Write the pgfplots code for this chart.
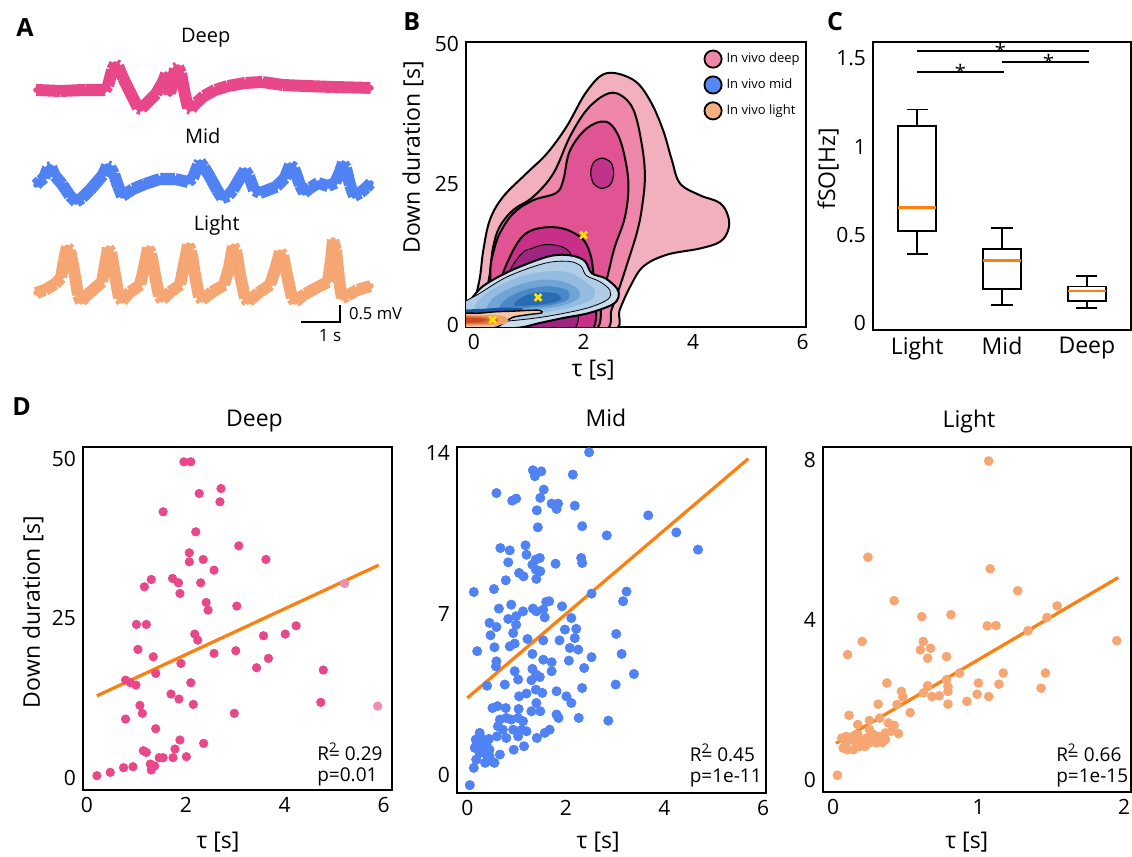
\documentclass[border=0pt]{standalone}
\usepackage{fontspec}
\setmainfont{Open Sans}
\usepackage{pgfplots}
\usepackage{pgfplotstable}
\pgfplotsset{compat=1.18}
\usepgfplotslibrary{statistics}
\usetikzlibrary{decorations.pathmorphing}

\definecolor{deepC}{HTML}{E8488A}
\definecolor{deepL}{HTML}{EE8DB0}
\definecolor{midC}{HTML}{5082F3}
\definecolor{lightC}{HTML}{F5A673}
\definecolor{fitC}{HTML}{FF7F0E}
\definecolor{dA}{HTML}{F2AFBE}
\definecolor{dB}{HTML}{EE87AA}
\definecolor{dC}{HTML}{E05494}
\definecolor{dD}{HTML}{C72F88}
\definecolor{dE}{HTML}{A02580}
\definecolor{dF}{HTML}{C0338D}
\definecolor{bA}{HTML}{C9DDEF}
\definecolor{bB}{HTML}{B0CDE7}
\definecolor{bC}{HTML}{93BCE0}
\definecolor{bD}{HTML}{6FA4D4}
\definecolor{bE}{HTML}{4A89C6}
\definecolor{bF}{HTML}{2A6CB2}
\definecolor{bG}{HTML}{1B56A0}
\definecolor{oA}{HTML}{F8C7A2}
\definecolor{oB}{HTML}{F0A06C}
\definecolor{oC}{HTML}{E2703A}
\definecolor{oD}{HTML}{C64A1F}
\definecolor{yel}{HTML}{FFE400}
\definecolor{legMid}{HTML}{5588F5}
\definecolor{legLight}{HTML}{F5B07E}

\newcommand\txt[4][]{\node[#1] at ({(#2)*0.5pt},{(857-(#3))*0.5pt}) {#4};}

\tikzset{stat/.style={anchor=west, inner sep=0pt, font=\fontsize{9.5}{11}\selectfont}}
\pgfplotsset{
  every axis/.append style={
    scale only axis,
    axis line style={line width=1.1pt},
    major tick length=0pt,
    tick style={draw=none},
    tick label style={font=\fontsize{10.5}{12}\selectfont},
    label style={font=\fontsize{11.5}{13}\selectfont},
    /pgf/number format/assume math mode=true,
  },
  tracebase/.style={line width=2.8pt, line join=round, line cap=round},
  tracenoise/.style={line width=0.35pt, line join=bevel, decorate,
    decoration={zigzag, segment length=0.5pt, amplitude=3.0pt}},
}

\pgfplotstableread{
x y
36 90
60 91
85 90
105 90
108 86
112 70
115 64
118 66
123 78
130 92
138 108
141 109
148 102
156 94
163 82
166 74
168 80
170 94
172 84
175 69
178 67
181 73
184 90
188 108
191 109
196 103
204 96
215 90
228 86
245 83
262 82
283 85
305 86
333 87
371 88
}\deeptrace
\pgfplotstableread{
x y
36 185
40 181
44 178
48 168
51 167
55 176
62 184
70 196
76 202
82 198
90 190
97 182
103 175
107 166
110 167
114 174
118 186
122 196
127 193
133 189
145 184
160 179
175 179
188 182
193 178
198 165
200 162
204 167
210 177
217 190
222 198
228 196
233 190
240 178
245 170
249 176
254 190
260 193
268 190
276 187
285 178
290 165
294 168
300 185
304 193
310 188
318 183
328 186
335 183
340 172
343 163
346 168
350 185
354 196
360 193
366 188
371 183
}\midtrace
\pgfplotstableread{
x y
36 293
45 290
55 284
61 278
64 260
67 247
70 250
74 270
78 295
81 302
86 296
95 288
102 282
105 265
108 248
111 252
115 275
119 298
122 301
130 292
140 285
144 268
148 248
151 253
155 275
159 296
162 300
170 292
180 285
184 265
188 245
191 250
195 275
199 297
202 300
212 292
224 285
229 268
233 246
236 250
240 275
245 298
248 302
258 293
270 285
275 270
280 252
283 255
287 275
292 298
295 302
305 294
318 287
328 282
331 260
333 240
336 250
339 280
342 298
347 296
357 290
371 286
}\lighttrace

\begin{document}
\begin{tikzpicture}
\path[use as bounding box] (0,0) rectangle (566pt,428.5pt);

% ---------------- Panel A ----------------
\begin{axis}[at={(15pt,256pt)}, anchor=south west, width=175pt, height=152.5pt,
  xmin=30, xmax=380, ymin=40, ymax=345, y dir=reverse, hide axis, clip=false]
\addplot[deepC, tracebase] table {\deeptrace};
\addplot[deepC, tracenoise] table {\deeptrace};
\addplot[midC, tracebase] table {\midtrace};
\addplot[midC, tracenoise] table {\midtrace};
\addplot[lightC, tracebase] table {\lighttrace};
\addplot[lightC, tracenoise] table {\lighttrace};
\addplot[black, line width=0.9pt] coordinates {(301,322) (340,322) (340,305)};
\end{axis}
\txt[font=\fontsize{10}{12}\selectfont]{205.7}{37.3}{Deep}
\txt[font=\fontsize{10}{12}\selectfont]{202.7}{136}{Mid}
\txt[font=\fontsize{10}{12}\selectfont]{216.7}{225}{Light}
\txt[font=\fontsize{8.3}{10}\selectfont, anchor=west]{342}{314}{0.5 mV}
\txt[font=\fontsize{8.5}{10}\selectfont]{330}{336}{1 s}

% ---------------- Panel B ----------------
\begin{axis}[at={(233pt,265pt)}, anchor=south west, width=170pt, height=142.5pt,
  xmin=-0.146, xmax=6.06, ymin=-0.36, ymax=50.36,
  xtick={0,2,4,6}, ytick={0,25,50},
  xlabel={τ [s]}, ylabel={Down duration [s]},
  xlabel style={at={(axis description cs:0.374,-0.151)}, anchor=center},
  ylabel style={at={(axis description cs:-0.156,0.595)}, anchor=center},
  legend style={at={(axis description cs:1.0,0.985)}, anchor=north east, draw=none,
    fill=none, font=\fontsize{6.5}{8}\selectfont, row sep=2.5pt, inner sep=1pt},
  legend cell align=left]
\addplot[fill=dA, draw=black, line width=1pt, smooth cycle, tension=0.6, forget plot] coordinates {
(0.0,-1) (0.02,4) (0.11,8.6) (0.17,13.3) (0.29,18.7) (0.53,22.8) (0.96,27.0) (1.33,30.5)
(1.69,35.3) (2.06,41.6) (2.42,44.8) (2.91,43.6) (3.21,40.0) (3.45,34.7) (3.61,29.4)
(3.76,25.2) (4.12,23.1) (4.49,21.7) (4.64,19.3) (4.64,16.9) (4.49,14.8) (4.12,13.6)
(3.52,12.5) (3.09,10.4) (2.85,6.8) (2.66,2.7) (2.53,-1) (1.3,-1.5)};
\addplot[fill=dB, draw=black, line width=1pt, smooth cycle, tension=0.6, forget plot] coordinates {
(0.18,-1) (0.22,5) (0.29,9.2) (0.35,13.9) (0.47,17.5) (0.72,20.5) (1.08,22.8) (1.45,27.0)
(1.75,33.5) (2.06,38.3) (2.40,41.0) (2.66,41.0) (2.91,38.3) (3.06,32.3) (3.12,26.4)
(3.06,20.5) (2.97,16.3) (2.82,11.6) (2.66,6.8) (2.51,2.7) (2.37,-1) (1.3,-1.5)};
\addplot[fill=dC, draw=black, line width=1pt, smooth cycle, tension=0.6, forget plot] coordinates {
(0.28,-1) (0.30,5) (0.30,10) (0.35,12.8) (0.47,16.3) (0.72,19.9) (1.08,22.2) (1.50,23.5)
(1.63,25.8) (1.75,31.0) (2.06,35.0) (2.40,36.2) (2.62,34.0) (2.76,29.5) (2.82,24.5)
(2.75,19.0) (2.57,13.9) (2.45,9.2) (2.33,4.4) (2.20,-1) (1.3,-1.5)};
\addplot[fill=dF, draw=black, line width=0.6pt, smooth cycle, forget plot] coordinates {
(2.34,29.7) (2.50,28.9) (2.55,27.0) (2.49,25.0) (2.33,24.3) (2.18,25.2) (2.13,27.2) (2.19,29.0)};
\addplot[fill=dD, draw=black, line width=1pt, smooth cycle, tension=0.6, forget plot] coordinates {
(0.40,-1) (0.42,4) (0.45,6.8) (0.63,11.6) (0.88,15.7) (1.18,17.2) (1.61,17.2) (1.97,15.4)
(2.12,12.7) (2.18,9.2) (2.21,5.6) (2.14,-1) (1.3,-1.5)};
\addplot[fill=dE, draw=black, line width=0.5pt, smooth cycle, tension=0.6, forget plot] coordinates {
(0.55,-1) (0.6,8) (0.85,12.5) (1.05,13.6) (1.30,14.3) (1.61,13.9) (1.79,12.2) (1.85,8) (1.8,-1)};
% mid (blue)
\addplot[fill=bA, draw=black, line width=1pt, smooth cycle, tension=0.55, forget plot] coordinates {
(-0.3,0.0) (-0.3,3.4) (-0.13,3.8) (0.15,6.8) (0.57,9.2) (1.0,11.0) (1.36,12.2) (1.61,12.5)
(1.85,12.2) (2.03,11.3) (2.15,9.2) (2.40,8.3) (2.61,6.5) (2.64,5.0) (2.52,3.6) (2.09,2.1)
(1.61,1.2) (1.18,0.3) (0.8,-0.5) (0.0,-0.8)};
\addplot[fill=bB, draw=black, line width=0.4pt, smooth cycle, tension=0.55, forget plot] coordinates {
(-0.3,0.5) (-0.3,3.2) (0.1,5.6) (0.55,8.3) (1.0,10.1) (1.4,11.2) (1.75,11.3) (1.95,10.5)
(2.05,8.8) (2.3,7.7) (2.48,6.2) (2.45,4.6) (2.1,3.1) (1.6,2.0) (1.1,1.2) (0.5,0.6) (0.0,0.3)};
\addplot[fill=bC, draw=none, smooth cycle, forget plot] coordinates {
(0.0,1.2) (0.1,4.6) (0.5,7.2) (0.95,8.9) (1.4,9.6) (1.75,9.3) (2.0,7.9) (2.2,6.3) (2.15,4.6)
(1.8,3.2) (1.3,2.3) (0.7,1.5)};
\addplot[fill=bD, draw=none, smooth cycle, forget plot] coordinates {
(0.2,2.0) (0.35,4.8) (0.75,6.9) (1.2,8.0) (1.6,7.8) (1.9,6.4) (1.9,4.6) (1.55,3.3) (1.0,2.6) (0.5,2.1)};
\addplot[fill=bE, draw=none, smooth cycle, forget plot] coordinates {
(0.45,2.6) (0.6,4.7) (0.95,6.3) (1.35,6.9) (1.7,6.2) (1.72,4.6) (1.4,3.5) (0.9,3.0)};
\addplot[fill=bF, draw=none, smooth cycle, forget plot] coordinates {
(0.75,3.4) (0.85,4.8) (1.15,5.8) (1.5,5.6) (1.58,4.5) (1.3,3.7)};
\addplot[fill=bG, draw=none, smooth cycle, forget plot] coordinates {
(-0.3,1.7) (-0.3,2.6) (0.2,2.9) (0.6,3.1) (0.9,2.9) (0.7,2.2) (0.2,1.8)};
% light (orange)
\addplot[fill=oA, draw=black, line width=0.7pt, smooth cycle, tension=0.5, forget plot] coordinates {
(-0.3,-0.5) (-0.3,1.9) (0.1,2.1) (0.4,2.35) (0.7,2.45) (1.0,2.6) (1.2,2.6) (1.24,2.15)
(1.0,1.85) (0.7,1.35) (0.55,0.4) (0.35,-0.5)};
\addplot[fill=oB, draw=none, smooth cycle, forget plot] coordinates {
(-0.3,0.0) (-0.3,1.7) (0.15,1.8) (0.5,1.65) (0.62,0.9) (0.5,0.05)};
\addplot[fill=oC, draw=none, smooth cycle, forget plot] coordinates {
(-0.3,0.2) (-0.3,1.45) (0.15,1.5) (0.42,1.2) (0.42,0.45) (0.15,0.2)};
\addplot[fill=oD, draw=none, smooth cycle, forget plot] coordinates {
(-0.2,0.45) (-0.2,1.25) (0.1,1.25) (0.25,0.95) (0.1,0.5)};
\addplot[only marks, mark=x, mark size=2.4pt, color=yel, line width=1.3pt, forget plot]
  coordinates {(2.0,16.0) (1.17,4.9) (0.34,0.9)};
\addlegendimage{legend image code/.code={\draw[fill=dB, draw=black, line width=0.9pt] (0pt,0pt) circle (4.3pt);}}
\addlegendentry{In vivo deep}
\addlegendimage{legend image code/.code={\draw[fill=legMid, draw=black, line width=0.9pt] (0pt,0pt) circle (4.3pt);}}
\addlegendentry{In vivo mid}
\addlegendimage{legend image code/.code={\draw[fill=legLight, draw=black, line width=0.9pt] (0pt,0pt) circle (4.3pt);}}
\addlegendentry{In vivo light}
\end{axis}

% ---------------- Panel C ----------------
\begin{axis}[at={(436.5pt,263.5pt)}, anchor=south west, width=129pt, height=144pt,
  xmin=0.48, xmax=3.52, ymin=-0.038, ymax=1.594,
  xtick={1,2,3}, xticklabels={Light,Mid,Deep},
  ytick={0,0.5,1,1.5}, yticklabels={0,0.5,1,1.5},
  xticklabel style={font=\fontsize{11.5}{13}\selectfont},
  ylabel={fSO[Hz]},
  ylabel style={at={(axis description cs:-0.174,0.559)}, anchor=center},
  boxplot/draw direction=y,
  boxplot/every median/.style={draw=fitC, line width=1.2pt}]
\addplot[black, line width=0.9pt, boxplot prepared={lower whisker=0.392, lower quartile=0.523,
  median=0.657, upper quartile=1.117, upper whisker=1.211, draw position=1,
  box extend=0.45, whisker extend=0.25}] coordinates {};
\addplot[black, line width=0.9pt, boxplot prepared={lower whisker=0.104, lower quartile=0.196,
  median=0.355, upper quartile=0.419, upper whisker=0.538, draw position=2,
  box extend=0.45, whisker extend=0.25}] coordinates {};
\addplot[black, line width=0.9pt, boxplot prepared={lower whisker=0.085, lower quartile=0.128,
  median=0.183, upper quartile=0.208, upper whisker=0.268, draw position=3,
  box extend=0.45, whisker extend=0.25}] coordinates {};
\addplot[black, line width=0.8pt] coordinates {(1.0,1.543) (3.03,1.543)};
\addplot[black, line width=0.8pt] coordinates {(2.0,1.481) (3.03,1.481)};
\addplot[black, line width=0.8pt] coordinates {(1.0,1.425) (2.02,1.425)};
\node[anchor=base, yshift=-4pt, font=\fontsize{10}{12}\selectfont] at (axis cs:1.98,1.543) {*};
\node[anchor=base, yshift=-4pt, font=\fontsize{10}{12}\selectfont] at (axis cs:2.55,1.481) {*};
\node[anchor=base, yshift=-4pt, font=\fontsize{10}{12}\selectfont] at (axis cs:1.51,1.425) {*};
\end{axis}

% ---------------- Panel D: Deep ----------------
\begin{axis}[at={(41.5pt,33.5pt)}, anchor=south west, width=154.5pt, height=171.5pt,
  xmin=-0.081, xmax=6.17, ymin=-1.82, ymax=51.8,
  xtick={0,2,4,6}, ytick={0,25,50},
  title={Deep},
  every axis title/.style={at={(axis description cs:0.555,1)}, anchor=base, yshift=10pt, font=\fontsize{11.5}{13}\selectfont},
  xlabel={τ [s]}, ylabel={Down duration [s]},
  xlabel style={at={(axis description cs:0.437,-0.152)}, anchor=center},
  ylabel style={at={(axis description cs:-0.162,0.519)}, anchor=center}]
\addplot[only marks, mark=*, mark size=2.1pt, color=deepC] coordinates {
(0.20,0.42) (0.47,0.94) (0.74,1.67) (0.93,1.82) (0.78,9.27) (0.78,15.36) (0.88,14.95)
(0.99,14.58) (1.00,24.06) (1.03,20.16) (1.07,11.41) (1.12,10.16) (1.14,4.32) (1.20,4.06)
(1.16,29.95) (1.20,24.06) (1.30,31.09) (1.34,19.01) (1.39,16.41) (1.39,7.76) (1.28,2.24)
(1.30,1.30) (1.37,1.93) (1.46,3.23) (1.54,3.23) (1.54,41.67) (1.70,13.18) (1.73,31.25)
(1.74,3.23) (1.78,4.58) (1.85,30.57) (1.88,28.91) (1.86,12.40) (1.90,17.97) (1.88,5.99)
(1.96,49.48) (2.10,49.48) (2.01,3.39) (2.07,35.26) (2.07,33.85) (2.10,14.95) (2.15,11.56)
(2.20,38.54) (2.18,22.55) (2.24,21.61) (2.27,44.53) (2.30,30.57) (2.35,34.22) (2.41,27.50)
(2.45,26.30) (2.36,5.47) (2.57,32.55) (2.57,19.53) (2.71,45.31) (2.69,43.23) (2.98,10.16)
(3.03,26.93) (3.01,19.95) (3.07,36.35) (3.43,17.29) (3.57,22.29) (3.62,34.22) (3.67,18.75)
(4.01,22.55) (4.23,23.85) (4.73,11.88) (4.78,16.93)};
\addplot[only marks, mark=*, mark size=2.1pt, color=deepL] coordinates {(5.21,30.47) (5.88,11.30)};
\addplot[fitC, line width=1.6pt] coordinates {(0.2,12.90) (5.9,33.33)};
\node[stat] at (rel axis cs:0.757,0.111) {R\rlap{\textsuperscript{2}}= 0.29};
\node[stat] at (rel axis cs:0.757,0.038) {p=0.01};
\end{axis}

% ---------------- Panel D: Mid ----------------
\begin{axis}[at={(228.5pt,32pt)}, anchor=south west, width=154.5pt, height=173pt,
  xmin=-0.21, xmax=6.06, ymin=-0.77, ymax=14.26,
  xtick={0,2,4,6}, ytick={0,7,14},
  title={Mid},
  every axis title/.style={at={(axis description cs:0.482,1)}, anchor=base, yshift=10pt, font=\fontsize{11.5}{13}\selectfont},
  xlabel={τ [s]},
  xlabel style={at={(axis description cs:0.457,-0.141)}, anchor=center}]
\addplot[only marks, mark=*, mark size=2.3pt, color=midC] coordinates {
(2.47,14.03) (1.33,13.25) (1.50,13.20) (1.37,12.99) (2.14,13.06) (0.59,12.26) (1.55,12.41)
(1.48,12.05) (0.91,11.93) (0.99,12.02) (1.41,11.51) (1.71,11.80) (1.84,11.80) (1.81,11.57)
(2.18,11.71) (2.33,10.82) (1.43,10.77) (2.83,10.42) (3.67,11.29) (4.24,10.55) (4.68,9.80)
(0.67,9.87) (0.86,9.77) (1.18,9.99) (1.20,9.58) (1.39,9.37) (1.47,9.44) (1.32,9.15)
(0.83,9.25) (1.39,8.93) (1.48,8.86) (1.79,9.19) (2.31,9.44) (2.33,9.22) (1.05,8.79)
(1.14,8.64) (1.40,8.53) (0.78,8.47) (0.13,7.96) (0.54,8.09) (2.52,7.89) (3.23,7.98)
(3.16,7.56) (1.60,7.53) (1.66,7.56) (1.92,7.34) (0.64,7.24) (0.89,7.41) (1.33,7.24)
(1.40,7.12) (1.54,7.20) (1.57,6.86) (0.83,6.79) (0.99,6.91) (1.13,7.12) (0.45,6.62)
(0.59,6.44) (0.99,6.54) (0.93,6.18) (0.47,6.08) (1.22,5.92) (1.54,5.86) (1.87,5.86)
(1.98,6.33) (2.11,6.83) (2.21,6.36) (2.18,5.96) (3.02,6.14) (0.20,5.39) (0.55,5.56)
(0.86,5.60) (0.96,5.72) (1.32,5.27) (2.08,5.53) (2.25,5.46) (2.52,5.13) (3.13,5.27)
(0.59,4.95) (0.58,4.73) (1.54,5.02) (1.71,4.91) (1.71,4.52) (2.06,4.98) (2.37,4.66)
(0.96,4.52) (1.32,4.62) (1.40,4.37) (1.30,4.13) (1.47,4.27) (1.03,4.16) (0.40,3.89)
(0.76,3.94) (3.01,3.94) (3.38,4.40) (2.33,3.79) (1.05,3.43) (1.20,3.55) (1.39,3.72)
(1.52,3.58) (1.81,3.65) (2.01,3.43) (2.11,3.14) (1.40,3.14) (1.48,2.78) (1.30,2.78)
(1.04,2.88) (0.51,2.92) (0.61,3.00) (0.78,2.92) (1.81,2.64) (1.85,2.49) (2.26,2.49)
(2.86,2.37) (0.66,2.42) (0.79,2.49) (0.89,2.42) (1.03,2.49) (1.13,2.35) (0.62,2.13)
(0.72,1.98) (0.93,1.98) (1.10,1.98) (1.20,1.91) (1.67,1.98) (1.57,1.84) (1.41,1.62)
(0.60,1.69) (0.79,1.62) (1.03,1.69) (0.25,1.84) (0.28,1.62) (0.32,1.40) (0.20,1.40)
(0.39,1.33) (0.44,1.58) (0.15,1.19) (0.35,0.97) (0.45,1.11) (0.66,0.90) (0.94,1.11)
(1.15,1.26) (0.13,0.32) (0.18,0.68) (0.36,0.54) (0.55,0.54) (0.45,0.83) (0.05,-0.43)
(0.17,1.55) (0.30,1.19) (0.40,0.83) (0.25,0.97) (0.49,0.61)};
\addplot[fitC, line width=1.6pt] coordinates {(0,3.36) (5.70,13.75)};
\node[stat] at (rel axis cs:0.752,0.116) {R\rlap{\textsuperscript{2}}= 0.45};
\node[stat] at (rel axis cs:0.752,0.043) {p=1e-11};
\end{axis}

% ---------------- Panel D: Light ----------------
\begin{axis}[at={(411.5pt,32.5pt)}, anchor=south west, width=154pt, height=172.5pt,
  xmin=-0.069, xmax=2.048, ymin=-0.31, ymax=8.33,
  xtick={0,1,2}, ytick={0,4,8},
  title={Light},
  every axis title/.style={at={(axis description cs:0.474,1)}, anchor=base, yshift=10pt, font=\fontsize{11.5}{13}\selectfont},
  xlabel={τ [s]},
  xlabel style={at={(axis description cs:0.467,-0.144)}, anchor=center}]
\addplot[only marks, mark=*, mark size=2.2pt, color=lightC] coordinates {
(0.03,0.11) (1.07,7.98) (0.24,5.57) (1.08,5.28) (1.27,4.73) (0.42,4.48) (0.61,4.08)
(0.81,4.13) (1.06,3.85) (1.12,3.86) (1.54,4.35) (1.47,4.06) (1.34,3.73) (1.95,3.48)
(0.20,3.46) (0.10,3.13) (0.62,3.46) (0.60,3.25) (0.67,3.29) (0.65,3.04) (0.78,3.08)
(0.87,2.67) (1.17,2.67) (1.00,2.42) (1.14,2.39) (1.46,2.67) (1.43,2.29) (0.99,2.14)
(1.07,2.08) (0.92,1.96) (0.79,1.89) (0.73,2.10) (0.68,2.08) (0.62,2.17) (0.65,2.35)
(0.78,2.50) (0.79,2.33) (0.79,2.21) (0.37,2.42) (0.47,2.21) (0.48,2.07) (0.44,1.88)
(0.31,1.89) (0.53,1.68) (0.11,1.61) (0.17,1.38) (0.25,1.48) (0.32,1.54) (0.38,1.42)
(0.42,1.36) (0.45,1.15) (0.40,1.21) (0.36,1.17) (0.32,1.08) (0.28,1.13) (0.25,1.25)
(0.23,1.04) (0.21,0.96) (0.17,1.13) (0.14,1.08) (0.11,1.00) (0.09,0.92) (0.07,0.79)
(0.10,0.75) (0.14,0.75) (0.18,0.83) (0.22,0.83) (0.26,0.96) (0.30,0.92) (0.34,0.93)
(0.06,1.04) (0.09,1.08) (0.16,0.92) (0.25,0.92) (0.36,1.00)};
\addplot[fitC, line width=1.6pt] coordinates {(0.02,0.91) (1.96,5.06)};
\node[stat] at (rel axis cs:0.756,0.113) {R\rlap{\textsuperscript{2}}= 0.66};
\node[stat] at (rel axis cs:0.756,0.041) {p=1e-15};
\end{axis}

% panel letters
\txt[font=\bfseries\fontsize{12.5}{14}\selectfont]{25}{28}{A}
\txt[font=\bfseries\fontsize{12.5}{14}\selectfont]{411.7}{21.7}{B}
\txt[font=\bfseries\fontsize{12.5}{14}\selectfont]{835}{21.7}{C}
\txt[font=\bfseries\fontsize{12.5}{14}\selectfont]{21.7}{406.7}{D}
\end{tikzpicture}
\end{document}
